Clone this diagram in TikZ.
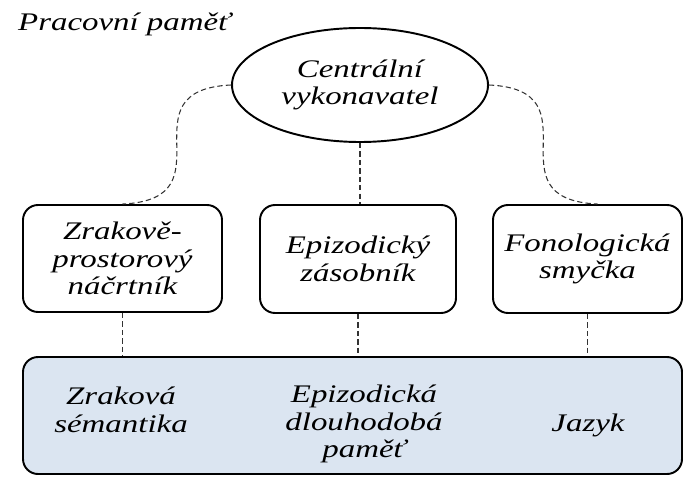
\documentclass[tikz,border=0pt]{standalone}
\usepackage{fontspec}
\setmainfont{Liberation Serif}[FakeStretch=1.3]
\usepackage{tikz}
\usetikzlibrary{shapes.geometric}

\definecolor{ltmblue}{HTML}{DBE5F1}

\begin{document}
\begin{tikzpicture}[font=\fontsize{14.4}{15.8}\selectfont\itshape]
\useasboundingbox (0,0) rectangle (13.66,9.52);

\node[anchor=base west] (T) at (0.24,8.9) {Pracovní paměť};

\begin{scope}[every node/.style={rounded corners=0.3cm,draw,line width=1.1pt,align=center,inner sep=0pt}]
  \node[ellipse, minimum width=5.12cm, minimum height=2.28cm] (C) at (7.2,7.82) {Centrální\\vykonavatel};
    \node[minimum width=3.98cm, minimum height=2.14cm] (Z) at (2.45,4.35) {Zrakově-\\prostorový\\náčrtník};
    \node[minimum width=3.92cm, minimum height=2.16cm] (E) at (7.16,4.34) {Epizodický\\zásobník};
    \node[minimum width=3.78cm, minimum height=2.16cm] (F) at (11.75,4.34) {Fonologická\\smyčka};
    \node[fill=ltmblue, minimum width=13.18cm, minimum height=2.34cm] (D) at (7.05,1.21) {};
\end{scope}

% texty v dlouhodobe pameti
\node[align=center] (ZS) at (2.42,1.33) {Zraková\\sémantika};
\node[align=center] (ED) at (7.28,1.04) {Epizodická\\dlouhodobá\\paměť};
\node (J) at (11.76,1.02) {Jazyk};

\begin{scope}[every path/.style={draw=black!80, line width=0.6pt, dash pattern=on 3pt off 1.8pt}]
    \path (C.west) .. controls +(-2.2,-0.1) and +(2.2,0.1) .. (Z.north);
    \path (C.east) .. controls +(2.2,-0.1) and +(-2.2,0.1) .. ([xshift=0.2cm]F.north);
    \path (C.south) -- (C.south |- E.north);
    \path (Z.south) -- (Z.south |- D.north);
    \path (E.south) -- (E.south |- D.north);
    \path (F.south) -- (F.south |- D.north);
\end{scope}
\end{tikzpicture}
\end{document}
